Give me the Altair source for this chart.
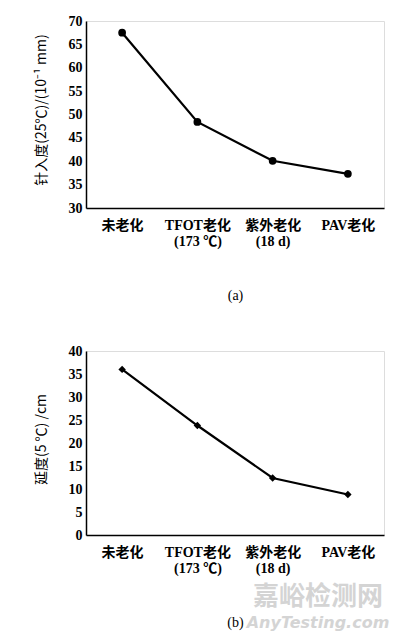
import altair as alt
import pandas as pd

categories = ["未老化", "TFOT老化|(173 ℃)", "紫外老化|(18 d)", "PAV老化"]
penetration = [67.5, 48.4, 40.1, 37.3]
ductility = [36.0, 23.8, 12.4, 8.8]
pen_ticks = [30, 35, 40, 45, 50, 55, 60, 65, 70]
duc_ticks = [0, 5, 10, 15, 20, 25, 30, 35, 40]

SERIF = "'Liberation Serif', 'Noto Sans CJK SC'"
SANS = "'Noto Sans CJK SC'"


def panel(values, domain, ticks, ytitle, xtitle, shape, size, h, title_dy):
    df = pd.DataFrame({"cat": categories, "v": values})
    x = alt.X(
        "cat:N",
        sort=categories,
        scale=alt.Scale(type="point", padding=0.48),
        axis=alt.Axis(
            title=xtitle,
            labelExpr="split(datum.label, '|')",
            labelAngle=0,
            labelFont=SERIF,
            labelFontWeight="bold",
            labelFontSize=14,
            labelLineHeight=16,
            labelColor="black",
            labelPadding=10,
            ticks=False,
            domainColor="black",
            domainWidth=1.5,
            titleFont=SERIF,
            titleFontSize=14,
            titleFontWeight="normal",
            titleColor="black",
            titlePadding=40,
        ),
    )
    y = alt.Y(
        "v:Q",
        scale=alt.Scale(domain=domain, nice=False, zero=False),
        axis=alt.Axis(
            values=ticks,
            title=ytitle,
            grid=False,
            ticks=False,
            labelFont=SERIF,
            labelFontWeight="bold",
            labelFontSize=14,
            labelColor="black",
            labelPadding=4,
            domainColor="black",
            domainWidth=1.5,
            titleFont=SANS,
            titleFontSize=14,
            titleFontWeight="normal",
            titleColor="black",
            titleX=-45,
            titleY=h / 2 + title_dy,
            titleBaseline="middle",
            titleAlign="center",
            titleAngle=270,
        ),
    )
    line = alt.Chart(df).mark_line(color="black", strokeWidth=2.2).encode(x=x, y=y)
    pts = alt.Chart(df).mark_point(
        filled=True, color="black", size=size, shape=shape, opacity=1
    ).encode(x=x, y=y)
    return alt.layer(line, pts).properties(width=298, height=h)


chart_a = panel(penetration, [30, 70], pen_ticks,
                "针入度(25℃)/(10⁻¹ mm)", "(a)", "circle", 60, 187, -5)
chart_b = panel(ductility, [0, 40], duc_ticks,
                "延度(5 ℃) /cm", "(b)", "diamond", 55, 184, -4)

wm_df = pd.DataFrame({"t": ["嘉峪检测网"]})
wm2_df = pd.DataFrame({"t": ["AnyTesting.com"]})
wm1 = alt.Chart(wm_df).mark_text(
    font=SANS, fontSize=26, fontWeight="bold", color="#d4d4d4"
).encode(text="t:N", x=alt.value(232), y=alt.value(246))
wm2 = alt.Chart(wm2_df).mark_text(
    font="'DejaVu Sans'", fontSize=16, fontWeight="bold", fontStyle="italic",
    color="#d4d4d4"
).encode(text="t:N", x=alt.value(232), y=alt.value(272))

chart_b = alt.layer(chart_b, wm1, wm2).properties(width=298, height=184)

chart = alt.vconcat(chart_a, chart_b, spacing=40).properties(
    padding={"left": 25, "top": 5, "right": 2, "bottom": 5}
).configure_view(stroke=None).configure(background="white")

chart.save("out.html", embed_options={"renderer": "svg", "actions": False})
